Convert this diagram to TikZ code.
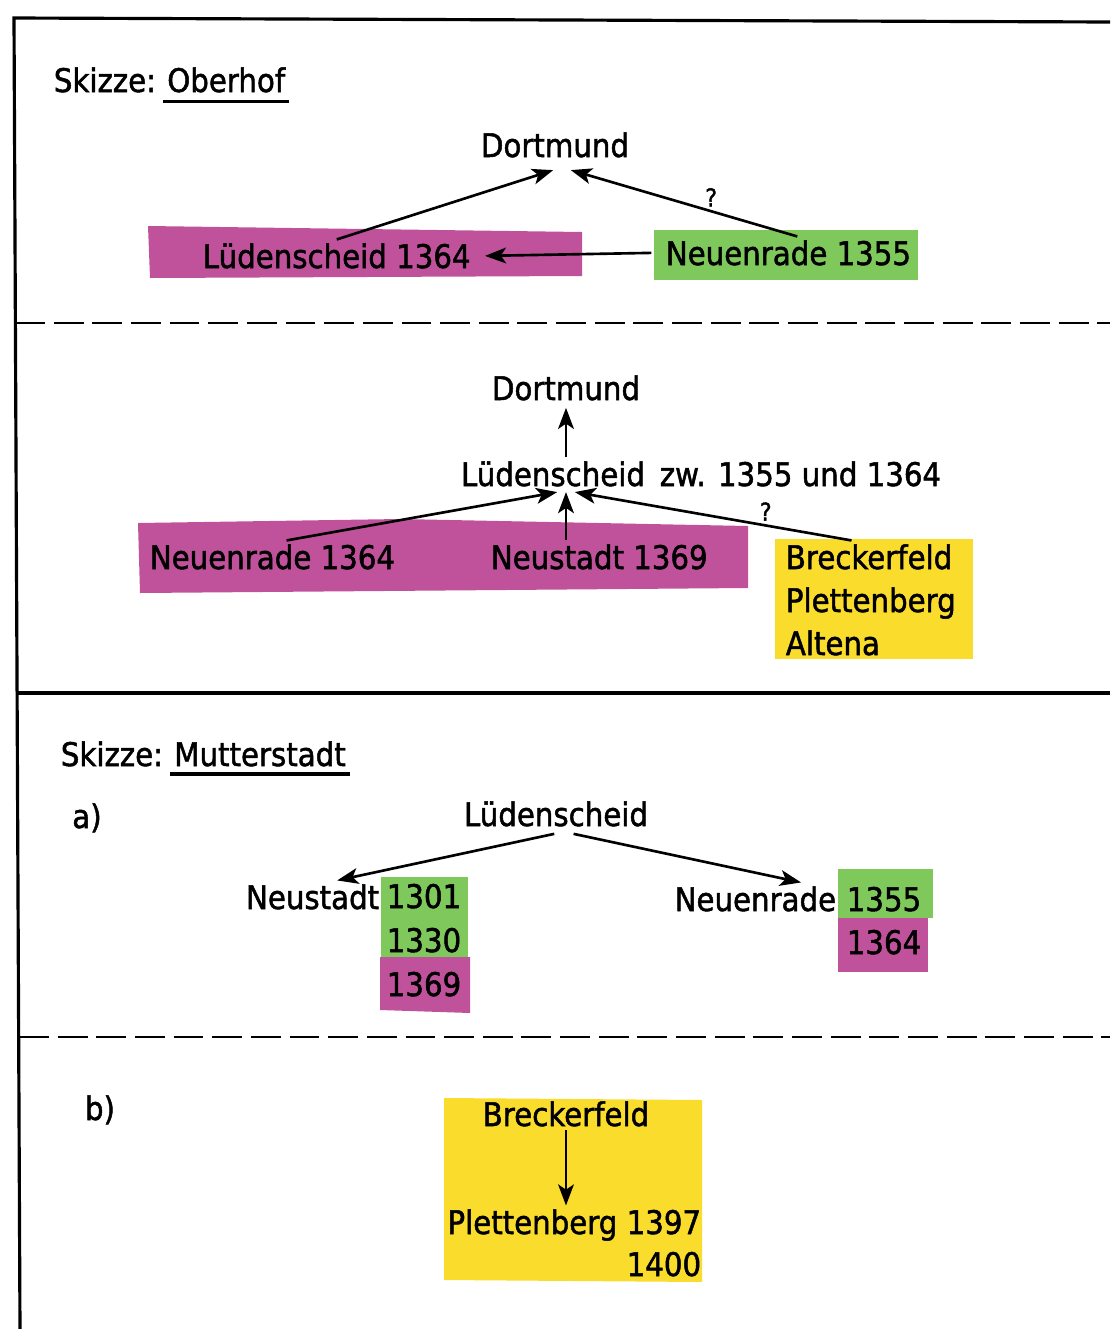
\documentclass[tikz,border=0pt]{standalone}
\usepackage{fontspec}
\setmainfont{DejaVu Sans}[FakeStretch=0.9,FakeBold=1.5]
\usetikzlibrary{positioning,arrows.meta}
\definecolor{mag}{RGB}{192,82,156}
\definecolor{grn}{RGB}{126,200,92}
\definecolor{yel}{RGB}{250,220,44}

\begin{document}
\begin{tikzpicture}[x=0.02cm,y=-0.02cm]
\tikzset{T/.style={inner sep=2pt,font=\fontsize{18.5}{22}\selectfont}}
\tikzset{Q/.style={inner sep=1pt,font=\fontsize{14}{15}\selectfont}}
\tikzset{A/.style={-{Stealth[length=12pt,width=9pt,inset=3pt]},line width=1.5pt}}
\tikzset{D/.style={line width=1.6pt,dash pattern=on 17pt off 5pt}}
\tikzset{U/.style={line width=2pt}}

 \useasboundingbox (0,0) rectangle (1110,1329);
  % frame
  \draw[line width=1.8pt] (1110,22) -- (14,18) -- (20,1329);
  \draw[line width=2.2pt] (17,693) -- (1110,693);
  \draw[D] (15,323) -- (1110,323);
  \draw[D] (19,1037) -- (1110,1037);

  % highlights
  \fill[mag] (148,226) -- (582,232) -- (582,276) -- (150,278) -- cycle;
  \fill[grn] (654,230) rectangle (918,280);
  \fill[mag] (138,523) -- (400,519) -- (748,526) -- (748,588) -- (140,593) -- cycle;
  \fill[yel] (775,539) rectangle (973,659);
  \fill[grn] (381,877) rectangle (468,957);
  \fill[mag] (380,957) -- (470,957) -- (470,1013) -- (380,1010) -- cycle;
  \fill[grn] (838,869) rectangle (933,918);
  \fill[mag] (838,918) rectangle (928,972);
  \fill[yel] (444,1098) -- (702,1100) -- (702,1282) -- (444,1280) -- cycle;

  % Oberhof
  \node[T,anchor=base west] (s0) at (50,92) {Skizze:};
  \node[T,base right=2pt of s0] (s1) {Oberhof};
  \draw[U] ([yshift=-3pt]s1.south west) -- ([yshift=-3pt]s1.south east);

  \node[T,anchor=base] (d1) at (555,157) {Dortmund};
  \node[T,anchor=base west] (l1) at (199,268) {Lüdenscheid 1364};
  \node[T,anchor=base west] (n1) at (662,265) {Neuenrade 1355};

  \draw[A] (l1.north) -- ([xshift=-1pt,yshift=-5pt]d1.south);
  \draw[A] ([xshift=5pt]n1.north) -- ([xshift=9pt,yshift=-5pt]d1.south)
    node[Q,pos=.38,above=1pt] (q1) {?};
  \draw[A] ([xshift=-6pt]n1.west) -- ([xshift=6pt]l1.east);

  % Oberhof, zweite Stufe
  \node[T,anchor=base] (d2) at (566,400) {Dortmund};
  \node[T,anchor=base] (l2) at (553,486) {Lüdenscheid};
  \node[T,base right=4pt of l2] (z2) {zw. 1355 und 1364};
  \node[T,anchor=base west] (a2) at (146,569) {Neuenrade 1364};
  \node[T,anchor=base west] (b2) at (487,569) {Neustadt 1369};
  \node[T,anchor=base west] (c2) at (782,569) {Breckerfeld};
  \node[T,anchor=base west] (c3) at (782,612) {Plettenberg};
  \node[T,anchor=base west] (c4) at (782,655) {Altena};
  \coordinate (t2) at ([yshift=-1pt]l2.south -| d2);

  \draw[A] (l2.north -| d2) -- ([yshift=-2pt]d2.south);
  \draw[A] ([xshift=8pt]a2.north) -- ([xshift=-5pt]t2);
  \draw[A] (b2.north -| d2) -- (t2);
  \draw[A] ([xshift=-10pt]c2.north) -- ([xshift=5pt]t2)
    node[Q,pos=.31,above=1pt] (q2) {?};

  % Mutterstadt
  \node[T,anchor=base west] (m0) at (57,766) {Skizze:};
  \node[T,base right=2pt of m0] (m1) {Mutterstadt};
  \draw[U] ([yshift=-2pt]m1.south west) -- ([yshift=-2pt]m1.south east);

  \node[T,anchor=base] (pa) at (87,828) {a)};
  \node[T,anchor=base] (l3) at (556,826) {Lüdenscheid};
  \node[T,anchor=base east] (e3) at (383,909) {Neustadt};
  \node[T,anchor=base] (g1) at (424,908) {1301};
  \node[T,anchor=base] (g2) at (424,952) {1330};
  \node[T,anchor=base] (g3) at (424,996) {1369};
  \node[T,anchor=base east] (n3) at (840,911) {Neuenrade};
  \node[T,anchor=base] (h1) at (884,911) {1355};
  \node[T,anchor=base] (h2) at (884,954) {1364};

  \draw[A] ([xshift=-1pt,yshift=-2pt]l3.south) -- ([xshift=14pt]e3.north);
  \draw[A] ([xshift=10pt,yshift=-2pt]l3.south) -- ([xshift=26pt]n3.north);

  \node[T,anchor=base] (pb) at (100,1120) {b)};
  \node[T,anchor=base] (f4) at (566,1126) {Breckerfeld};
  \node[T,anchor=base east] (p4) at (705,1234) {Plettenberg 1397};
  \node[T,anchor=base east] (r4) at (705,1276) {1400};
  \draw[A,line width=1pt] (f4.south) -- (p4.north -| f4);
\end{tikzpicture}
\end{document}
